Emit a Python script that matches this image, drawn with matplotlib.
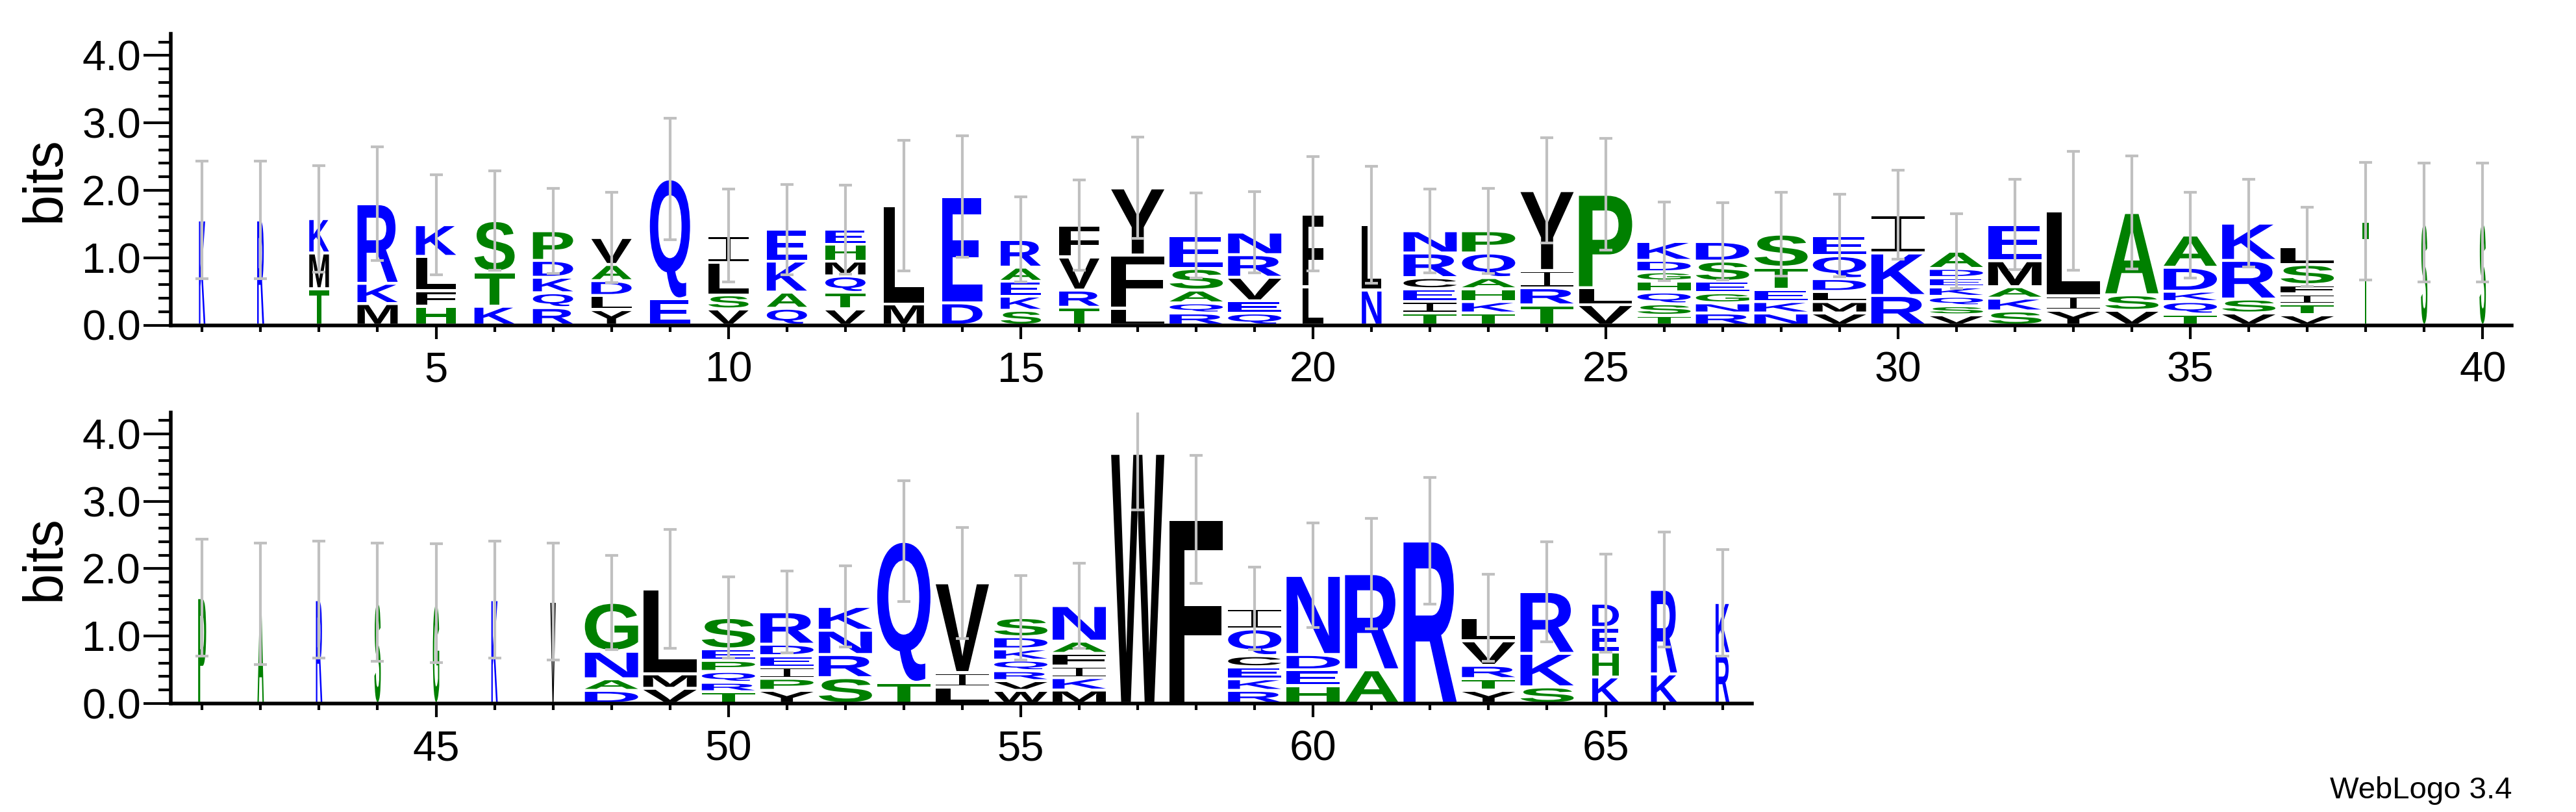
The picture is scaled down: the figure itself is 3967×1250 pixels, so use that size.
import matplotlib
matplotlib.use('Agg')
import matplotlib.pyplot as plt
from matplotlib.textpath import TextPath
from matplotlib.patches import PathPatch
from matplotlib.path import Path
from matplotlib.font_manager import FontProperties
from matplotlib.transforms import Affine2D
import numpy as np

# letters of each stack, bottom to top
stack_letters = [
    "K", "R", "TMK", "MKR", "HFLK", "KTS", "RQKDP", "YLDAV", "EQ", "VSLI",
    "QAKE", "VTQMHE", "ML", "DE", "SKEAR", "TRVF", "LFY", "RQASE", "QEVRN", "LF",
    "NL", "TIECRN", "TKHAQP", "TRIY", "VLP", "TSQHGDK", "RNGESD", "NKETS", "VMLDQE", "RKI",
    "VSQKEDA", "SKAME", "YIL", "VSA", "TQKDA", "VSRK", "VTIFSL", "T", "S", "S",
    "P", "A", "R", "S", "G", "K", "V", "DANG", "VML", "TRQPES",
    "YPIEDR", "SRNK", "TQ", "LIV", "WVRQKDS", "MKIFAN", "W", "F", "RKECQI", "HEDN",
    "AR", "R", "YTRVL", "SKR", "KHED", "KR", "RK",
]

# letter heights in bits, same order
stack_heights = [
    [1.56], [1.56], [0.54, 0.53, 0.51], [0.32, 0.30, 1.18], [0.28, 0.23, 0.51, 0.47],
    [0.28, 0.51, 0.76], [0.26, 0.22, 0.23, 0.25, 0.44], [0.23, 0.21, 0.22, 0.24, 0.40],
    [0.39, 1.78], [0.24, 0.21, 0.48, 0.40],
    [0.25, 0.24, 0.46, 0.47], [0.24, 0.245, 0.245, 0.22, 0.25, 0.22], [0.315, 1.46],
    [0.33, 1.58], [0.22, 0.21, 0.22, 0.21, 0.41], [0.265, 0.255, 0.49, 0.47],
    [0.25, 0.79, 0.995], [0.18, 0.15, 0.19, 0.32, 0.49], [0.18, 0.18, 0.35, 0.335, 0.335],
    [0.57, 1.08],
    [0.52, 0.97], [0.18, 0.17, 0.19, 0.165, 0.365, 0.33], [0.18, 0.17, 0.19, 0.165, 0.365, 0.33],
    [0.30, 0.255, 0.255, 1.185], [0.305, 0.25, 1.385],
    [0.146, 0.17, 0.175, 0.165, 0.135, 0.17, 0.28], [0.18, 0.15, 0.15, 0.17, 0.30, 0.29],
    [0.18, 0.17, 0.18, 0.33, 0.49], [0.18, 0.17, 0.15, 0.19, 0.34, 0.30], [0.44, 0.63, 0.57],
    [0.153, 0.135, 0.139, 0.139, 0.14, 0.135, 0.255], [0.21, 0.19, 0.17, 0.385, 0.535],
    [0.22, 0.214, 1.262], [0.22, 0.23, 1.22], [0.163, 0.187, 0.153, 0.355, 0.478],
    [0.18, 0.207, 0.573, 0.553], [0.153, 0.162, 0.145, 0.14, 0.30, 0.263],
    [1.54], [1.52], [1.52],
    [1.57], [1.48], [1.54], [1.50], [1.49], [1.54], [1.515],
    [0.195, 0.172, 0.408, 0.725], [0.226, 0.214, 1.26], [0.175, 0.14, 0.161, 0.164, 0.17, 0.465],
    [0.195, 0.179, 0.166, 0.17, 0.17, 0.48], [0.384, 0.343, 0.36, 0.353], [0.315, 2.09],
    [0.247, 0.213, 1.33], [0.195, 0.145, 0.147, 0.157, 0.166, 0.18, 0.285],
    [0.20, 0.184, 0.171, 0.189, 0.181, 0.528], [3.71], [2.73],
    [0.195, 0.172, 0.178, 0.165, 0.397, 0.303], [0.264, 0.236, 0.227, 1.173],
    [0.50, 1.426], [2.41], [0.195, 0.175, 0.196, 0.364, 0.345], [0.247, 0.497, 0.916],
    [0.394, 0.366, 0.368, 0.36], [0.439, 1.254], [0.74, 0.758],
]

# half length of the error bars (bits)
error_bits = [
    0.87, 0.87, 0.79, 0.84, 0.745, 0.74, 0.63, 0.67, 0.90, 0.69,
    0.67, 0.66, 0.97, 0.90, 0.63, 0.67, 0.75, 0.63, 0.60, 0.85,
    0.87, 0.62, 0.63, 0.78, 0.83, 0.58, 0.575, 0.625, 0.61, 0.66,
    0.555, 0.67, 0.88, 0.84, 0.635, 0.653, 0.59, 0.87, 0.88, 0.88,
    0.865, 0.90, 0.865, 0.875, 0.88, 0.87, 0.865, 0.70, 0.885, 0.60,
    0.61, 0.60, 0.895, 0.825, 0.625, 0.63, 0.84, 0.95, 0.61, 0.775,
    0.82, 0.94, 0.646, 0.74, 0.73, 0.85, 0.79,
]

# fraction of sequences without a gap (stack width)
occupancy = (
    [0.12, 0.13, 0.37] + [0.755] * 13 + [1.0] * 3 + [0.39]
    + [0.37] + [1.0] * 16 + [0.12] * 3
    + [0.15] + [0.12] * 5 + [0.10] + [1.0] * 17 + [0.50, 0.49, 0.26]
)

positions = list(range(1, len(stack_letters) + 1))
row_ranges = [(1, 40), (41, 67)]

colors = {}
for aa in 'RKDENQ':
    colors[aa] = '#0000ff'
for aa in 'SGHTAP':
    colors[aa] = '#008000'
for aa in 'YVMCLFIW':
    colors[aa] = '#000000'

letter_font = FontProperties(family='Liberation Sans', weight='bold')
label_font = 'Liberation Sans'
glyphs = {}


def unit_glyph(ch):
    # glyph outline scaled into the unit square
    if ch in glyphs:
        return glyphs[ch]
    if ch == 'I':
        rects = [(0, 0, 1, 0.08), (0, 0.92, 1, 1), (0.44, 0, 0.56, 1)]
        verts, codes = [], []
        for x0, y0, x1, y1 in rects:
            verts += [(x0, y0), (x1, y0), (x1, y1), (x0, y1), (x0, y0)]
            codes += [Path.MOVETO, Path.LINETO, Path.LINETO, Path.LINETO, Path.CLOSEPOLY]
        path = Path(verts, codes)
    else:
        tp = TextPath((0, 0), ch, size=100, prop=letter_font)
        ext = tp.get_extents()
        v = (tp.vertices - [ext.x0, ext.y0]) / [ext.width, ext.height]
        path = Path(v, tp.codes)
    glyphs[ch] = path
    return path


fig = plt.figure(figsize=(39.67, 12.5), dpi=100)
axes_rects = [
    [0.06622, 0.5996, 0.9089, 0.3587],
    [0.06622, 0.1336, 0.6138, 0.3587],
]

full_width = 0.91
gap = 0.022

for (lo, hi), rect in zip(row_ranges, axes_rects):
    ax = fig.add_axes(rect)
    tops = []
    for p in range(lo, hi + 1):
        i = p - 1
        w = full_width * occupancy[i]
        y0 = 0.0
        for ch, h in zip(stack_letters[i], stack_heights[i]):
            hh = h - 2 * gap
            if hh > 0:
                tr = Affine2D().scale(w, hh).translate(p - w / 2, y0 + gap) + ax.transData
                ax.add_patch(PathPatch(unit_glyph(ch), facecolor=colors[ch],
                                       edgecolor='none', transform=tr, zorder=2))
            y0 += h
        tops.append(y0)

    ax.errorbar(range(lo, hi + 1), tops, yerr=error_bits[lo - 1:hi], fmt='none',
                ecolor='#c0c0c0', elinewidth=3, capsize=7, capthick=3, zorder=5)

    ax.set_xlim(lo - 0.54, hi + 0.5)
    ax.set_ylim(0, 4.32)
    for s in ['top', 'right']:
        ax.spines[s].set_visible(False)
    for s in ['left', 'bottom']:
        ax.spines[s].set_linewidth(4)
        ax.spines[s].set_zorder(6)

    ax.set_xticks([p for p in range(lo, hi + 1) if p % 5 == 0])
    ax.set_xticks(range(lo, hi + 1), minor=True)
    ax.set_yticks(np.arange(0, 4.01, 1.0))
    ax.set_yticks(np.arange(0, 4.25, 0.2), minor=True)
    ax.yaxis.set_major_formatter('{x:.1f}')

    ax.tick_params(axis='x', which='major', length=15, width=3, pad=14, labelsize=47)
    ax.tick_params(axis='x', which='minor', length=7.5, width=3)
    ax.tick_params(axis='y', which='major', length=30, width=3, pad=3, labelsize=47)
    ax.tick_params(axis='y', which='minor', length=14, width=3)
    for lab in ax.get_xticklabels() + ax.get_yticklabels():
        lab.set_family(label_font)

    fig.text(0.0174, rect[1] + rect[3] / 2, 'bits', rotation=90, ha='center', va='center',
             fontsize=61, family=label_font)

fig.text(3868 / 3967, 1 - 1217 / 1250, 'WebLogo 3.4', ha='right', va='center',
         fontsize=34, family=label_font)

plt.savefig('out.png', dpi=100, facecolor='white')
plt.close(fig)
